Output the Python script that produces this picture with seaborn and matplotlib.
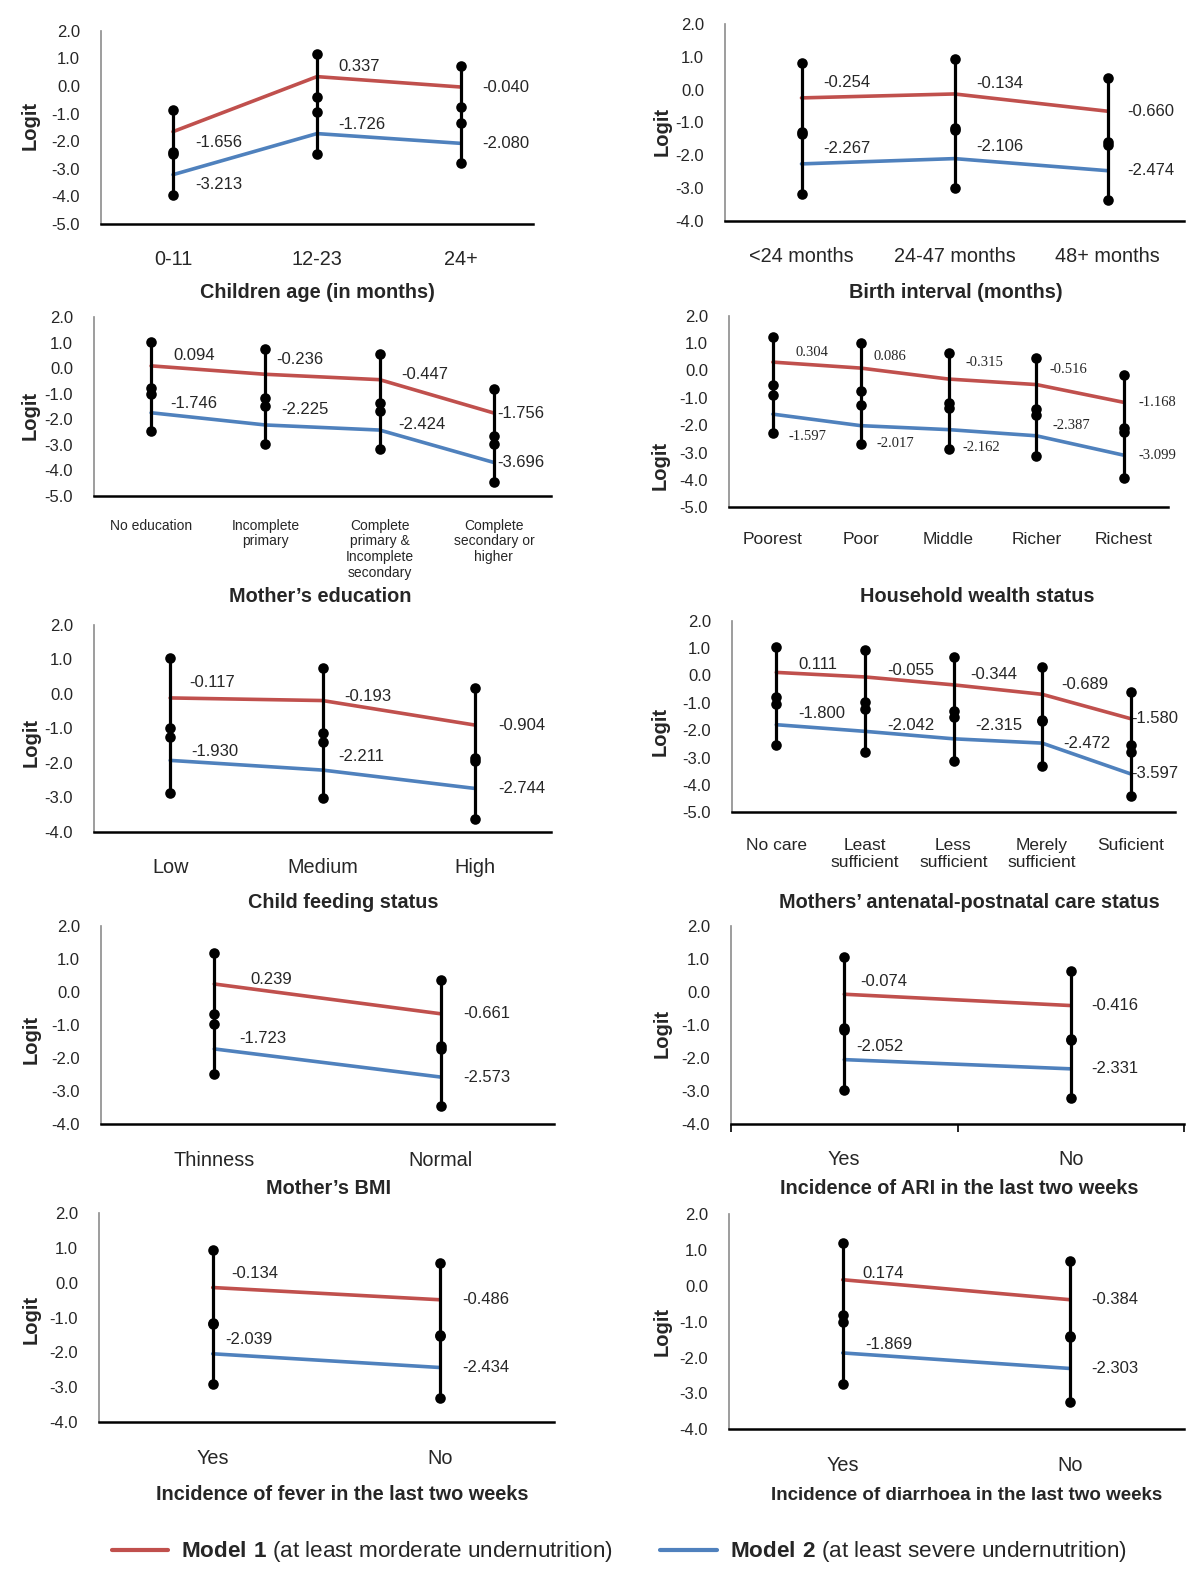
# logit plots - model 1 vs model 2 by background characteristics
import numpy as np
import pandas as pd
import matplotlib.pyplot as plt
from matplotlib.lines import Line2D
import seaborn as sns

sns.set_theme(style="white")
plt.rcParams['font.family'] = ['Liberation Sans', 'DejaVu Sans']
plt.rcParams['axes.unicode_minus'] = False
plt.rcParams['mathtext.fontset'] = 'custom'
plt.rcParams['mathtext.rm'] = 'Liberation Sans'
plt.rcParams['mathtext.bf'] = 'Liberation Sans:bold'

RED = '#C0504D'
BLUE = '#4F81BD'

# ---- data (estimates and CI ends, [upper], [lower]) ----
age_cat = ['0-11', '12-23', '24+']
age_m1 = [-1.656, 0.337, -0.040]
age_m2 = [-3.213, -1.726, -2.080]
age_m1_ci = [[-0.87, 1.16, 0.72], [-2.40, -0.41, -0.75]]
age_m2_ci = [[-2.46, -0.96, -1.35], [-3.95, -2.48, -2.78]]

bi_cat = ['<24 months', '24-47 months', '48+ months']
bi_m1 = [-0.254, -0.134, -0.660]
bi_m2 = [-2.267, -2.106, -2.474]
bi_m1_ci = [[0.82, 0.92, 0.35], [-1.30, -1.18, -1.61]]
bi_m2_ci = [[-1.36, -1.22, -1.68], [-3.20, -3.00, -3.37]]

edu_cat = ['No education', 'Incomplete\nprimary',
           'Complete\nprimary &\nIncomplete\nsecondary',
           'Complete\nsecondary or\nhigher']
edu_m1 = [0.094, -0.236, -0.447, -1.756]
edu_m2 = [-1.746, -2.225, -2.424, -3.696]
edu_m1_ci = [[1.04, 0.76, 0.55, -0.83], [-0.79, -1.15, -1.35, -2.65]]
edu_m2_ci = [[-1.01, -1.47, -1.66, -2.97], [-2.46, -2.97, -3.17, -4.45]]

w_cat = ['Poorest', 'Poor', 'Middle', 'Richer', 'Richest']
w_m1 = [0.304, 0.086, -0.315, -0.516, -1.168]
w_m2 = [-1.597, -2.017, -2.162, -2.387, -3.099]
w_m1_ci = [[1.21, 1.01, 0.65, 0.44, -0.17], [-0.53, -0.75, -1.18, -1.41, -2.12]]
w_m2_ci = [[-0.90, -1.28, -1.38, -1.63, -2.26], [-2.28, -2.70, -2.88, -3.11, -3.92]]

f_cat = ['Low', 'Medium', 'High']
f_m1 = [-0.117, -0.193, -0.904]
f_m2 = [-1.930, -2.211, -2.744]
f_m1_ci = [[1.03, 0.74, 0.16], [-0.98, -1.13, -1.85]]
f_m2_ci = [[-1.24, -1.39, -1.95], [-2.89, -3.03, -3.64]]

anc_cat = ['No care', 'Least\nsufficient', 'Less\nsufficient',
           'Merely\nsufficient', 'Suficient']
anc_m1 = [0.111, -0.055, -0.344, -0.689, -1.580]
anc_m2 = [-1.800, -2.042, -2.315, -2.472, -3.597]
anc_m1_ci = [[1.05, 0.93, 0.66, 0.32, -0.59], [-0.78, -0.98, -1.30, -1.62, -2.54]]
anc_m2_ci = [[-1.05, -1.24, -1.51, -1.68, -2.81], [-2.54, -2.81, -3.13, -3.30, -4.41]]

bmi_cat = ['Thinness', 'Normal']
bmi_m1 = [0.239, -0.661]
bmi_m2 = [-1.723, -2.573]
bmi_m1_ci = [[1.18, 0.36], [-0.67, -1.63]]
bmi_m2_ci = [[-0.97, -1.73], [-2.48, -3.44]]

yn_cat = ['Yes', 'No']
ari_m1 = [-0.074, -0.416]
ari_m2 = [-2.052, -2.331]
ari_m1_ci = [[1.06, 0.64], [-1.10, -1.42]]
ari_m2_ci = [[-1.15, -1.45], [-2.97, -3.20]]

fev_m1 = [-0.134, -0.486]
fev_m2 = [-2.039, -2.434]
fev_m1_ci = [[0.95, 0.56], [-1.14, -1.50]]
fev_m2_ci = [[-1.18, -1.54], [-2.92, -3.32]]

dia_m1 = [0.174, -0.384]
dia_m2 = [-1.869, -2.303]
dia_m1_ci = [[1.21, 0.70], [-0.81, -1.39]]
dia_m2_ci = [[-1.00, -1.43], [-2.73, -3.23]]

panels = [
    ('Children age (in months)', age_cat, age_m1, age_m2, age_m1_ci, age_m2_ci, -5),
    ('Birth interval (months)', bi_cat, bi_m1, bi_m2, bi_m1_ci, bi_m2_ci, -4),
    ('Mother\u2019s education', edu_cat, edu_m1, edu_m2, edu_m1_ci, edu_m2_ci, -5),
    ('Household wealth status', w_cat, w_m1, w_m2, w_m1_ci, w_m2_ci, -5),
    ('Child feeding status', f_cat, f_m1, f_m2, f_m1_ci, f_m2_ci, -4),
    ('Mothers\u2019 antenatal-postnatal care status', anc_cat, anc_m1, anc_m2, anc_m1_ci, anc_m2_ci, -5),
    ('Mother\u2019s BMI', bmi_cat, bmi_m1, bmi_m2, bmi_m1_ci, bmi_m2_ci, -4),
    ('Incidence of ARI in the last two weeks', yn_cat, ari_m1, ari_m2, ari_m1_ci, ari_m2_ci, -4),
    ('Incidence of fever in the last two weeks', yn_cat, fev_m1, fev_m2, fev_m1_ci, fev_m2_ci, -4),
    ('Incidence of diarrhoea in the last two weeks', yn_cat, dia_m1, dia_m2, dia_m1_ci, dia_m2_ci, -4),
]

# ---- layout (pixels): plot box, title centre, Logit centre, tick pad, fonts ----
W, H = 1200, 1589
layout = [
    dict(box=(101, 30.7, 533, 224), title=(317, 293), ylab=(30, 126), xpad=19, xfs=14.3),
    dict(box=(725, 24, 1184, 220.7), title=(956, 293), ylab=(662, 132), xpad=19, xfs=14.3),
    dict(box=(94, 317.3, 551, 495.7), title=(320, 596), ylab=(30, 416), xpad=16.5, xfs=10),
    dict(box=(729, 315.7, 1168, 507.3), title=(977, 596), ylab=(660, 465), xpad=17.5, xfs=12.5),
    dict(box=(94, 625, 551, 831.7), title=(343, 902), ylab=(31, 742), xpad=19, xfs=14.3),
    dict(box=(732, 620.7, 1175, 812.3), title=(969, 903), ylab=(660, 732), xpad=18.5, xfs=12.5),
    dict(box=(101, 925.7, 554, 1124.3), title=(328, 1189), ylab=(31, 1040), xpad=19.5, xfs=14.3),
    dict(box=(731, 925.7, 1184, 1124), title=(959, 1189), ylab=(662, 1034), xpad=19, xfs=14.3),
    dict(box=(99, 1213.3, 554, 1422), title=(342, 1495), ylab=(31, 1319), xpad=19.5, xfs=14.3),
    dict(box=(729, 1214.3, 1184, 1429.3), title=(967, 1495), ylab=(662, 1331), xpad=19.5, xfs=14.3, tfs=13.5),
]

# value label offsets in pixels (dx, dy; dy > 0 means below the point)
label_offsets = [
    ([(22, 11), (21, -10), (21, 0)], [(22, 10), (21, -9), (21, 0)]),
    ([(22, -15), (22, -10), (20, 0)], [(22, -15), (22, -12), (20, 0)]),
    ([(22, -10), (11, -15), (22, -5), (3, 0)], [(19, -9), (16, -15), (19, -6), (3, 0)]),
    ([(23, -10), (13, -12), (17, -17), (13, -15), (14, 0)],
     [(16, 22), (16, 18), (14, 18), (16, -10), (14, 0)]),
    ([(19, -15), (22, -4), (23, 0)], [(21, -9), (16, -14), (23, 0)]),
    ([(22, -8), (22, -6), (17, -10), (19, -10), (1, 0)],
     [(22, -11), (22, -6), (22, -13), (21, 0), (1, 0)]),
    ([(36, -4), (23, 0)], [(25, -10), (23, 0)]),
    ([(16, -13), (21, 0)], [(12, -13), (21, 0)]),
    ([(18, -14), (22, 0)], [(12, -14), (22, 0)]),
    ([(20, -6), (21, 0)], [(22, -8), (21, 0)]),
]

fig = plt.figure(figsize=(W / 100, H / 100), dpi=100)

for i, (title, cats, m1, m2, ci1, ci2, ylo) in enumerate(panels):
    lay = layout[i]
    l, t, r, b = lay['box']
    ax = fig.add_axes([l / W, 1 - b / H, (r - l) / W, (b - t) / H])
    n = len(cats)
    x = np.arange(n)

    # black CI bars with end dots
    allv = np.array([ci1[0], ci1[1], ci2[0], ci2[1]])
    ax.vlines(x, allv.min(axis=0), allv.max(axis=0), color='black', lw=2.3, zorder=3)
    dots = pd.DataFrame({'x': np.tile(x, 4), 'v': allv.ravel()})
    sns.scatterplot(data=dots, x='x', y='v', color='black', s=58, linewidth=0,
                    ax=ax, zorder=4, legend=False)

    # model lines
    df = pd.DataFrame({'x': np.tile(x, 2), 'logit': list(m1) + list(m2),
                       'model': ['Model 1'] * n + ['Model 2'] * n})
    sns.lineplot(data=df, x='x', y='logit', hue='model', palette=[RED, BLUE],
                 lw=2.6, ax=ax, legend=False, sort=False, estimator=None, zorder=2)

    # value labels
    serif = (i == 3)
    for vals, offs in zip((m1, m2), label_offsets[i]):
        for xi, v, (dx, dy) in zip(x, vals, offs):
            ax.annotate(f'{v:.3f}', xy=(xi, v), xytext=(dx * 0.72, -dy * 0.72),
                        textcoords='offset points', ha='left', va='center',
                        fontsize=10.5 if serif else 12, zorder=1,
                        family='Liberation Serif' if serif else None)

    ax.set_xlim(-0.5, n - 0.5)
    ax.set_ylim(ylo, 2)
    yt = np.arange(2, ylo - 0.5, -1)
    ax.set_yticks(yt)
    ax.set_yticklabels([f'{v:.1f}' for v in yt], fontsize=12)
    ax.set_xticks(x)
    ax.set_xticklabels(cats, fontsize=lay['xfs'], linespacing=1.15)
    ax.tick_params(axis='y', length=0, pad=15)
    ax.tick_params(axis='x', length=0, pad=lay['xpad'])
    if i == 7:
        ax.set_xticks(np.arange(n + 1) - 0.5, minor=True)
        ax.tick_params(axis='x', which='minor', bottom=True, length=6,
                       width=1.2, color='black', direction='out')

    for s in ('top', 'right'):
        ax.spines[s].set_visible(False)
    ax.spines['left'].set_color('#8c8c8c')
    ax.spines['left'].set_linewidth(1.2)
    ax.spines['bottom'].set_color('black')
    ax.spines['bottom'].set_linewidth(1.8)

    ax.set_xlabel(title, fontsize=lay.get('tfs', 14.3), fontweight='bold')
    tx, ty = lay['title']
    ax.xaxis.set_label_coords((tx - l) / (r - l), (b - ty) / (b - t))
    ax.xaxis.label.set_va('center')
    ax.set_ylabel('Logit', fontsize=14.5, fontweight='bold')
    lx, ly = lay['ylab']
    ax.yaxis.set_label_coords((lx - l) / (r - l), (b - ly) / (b - t))
    ax.yaxis.label.set_va('center')

handles = [Line2D([], [], color=RED, lw=3), Line2D([], [], color=BLUE, lw=3)]
labels = [r'$\bf{Model\ 1}$ (at least morderate undernutrition)',
          r'$\bf{Model\ 2}$ (at least severe undernutrition)']
fig.legend(handles, labels, ncol=2, loc='center', bbox_to_anchor=(0.516, 1 - 1552 / H),
           frameon=False, fontsize=16.2, handlelength=2.5, handletextpad=0.58,
           columnspacing=2.1)

plt.savefig('out.png', dpi=100)
